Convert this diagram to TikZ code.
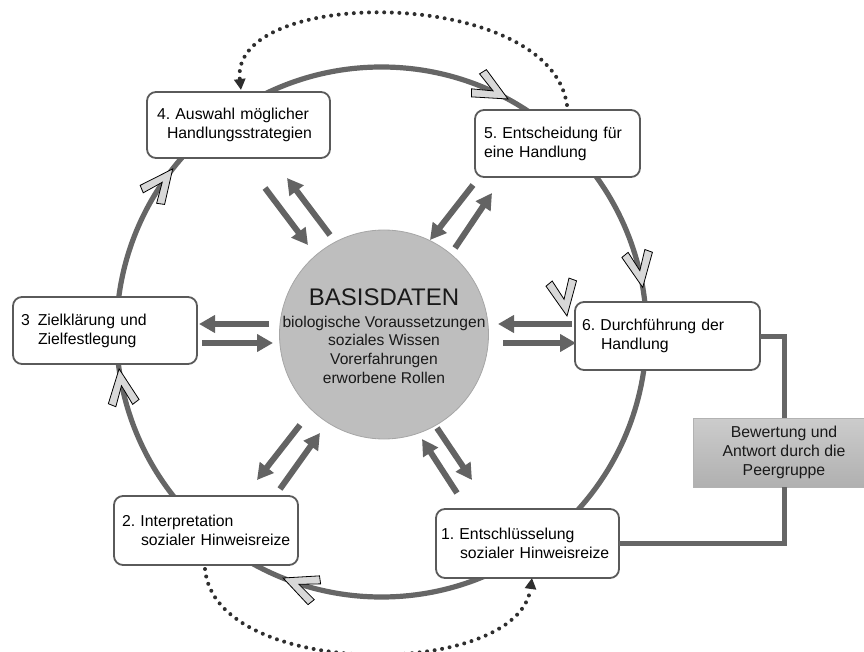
\documentclass[tikz,border=0pt]{standalone}
\usepackage{fontspec}
\setmainfont{Liberation Sans}
\usetikzlibrary{arrows.meta}
\definecolor{ringgray}{HTML}{666666}
\definecolor{boxline}{HTML}{5A5A5A}
\definecolor{arrgray}{HTML}{636363}
\definecolor{chevfill}{HTML}{D8D8D8}
\definecolor{circfill}{HTML}{BEBEBE}
\definecolor{circline}{HTML}{A6A6A6}
\definecolor{dotcol}{HTML}{2E2E2E}
\definecolor{fbtop}{HTML}{CCCCCC}
\definecolor{fbbot}{HTML}{B0B0B0}
\newcommand\boxfont{\fontsize{15.8}{19}\selectfont}
\newcommand\circfont{\fontsize{15.6}{18.8}\selectfont}
\frenchspacing
\begin{document}
\begin{tikzpicture}[x=1pt,y=-1pt,
  ring/.style={draw=ringgray, line width=5.2pt},
  stepbox/.style={draw=boxline, line width=1.8pt, rounded corners=9pt, fill=white,
    anchor=north west, align=left, font=\boxfont, text=black, inner ysep=0pt, outer sep=0pt},
  bigarrow/.style={draw=arrgray, line width=6pt, -{Triangle[length=16pt,width=17pt]}},
  dotarrow/.style={draw=dotcol, line width=4pt, line cap=round,
    dash pattern=on 0pt off 7.6pt, -{Triangle[length=11pt,width=11pt]}},
  fbline/.style={draw=ringgray, line width=5pt},
  fbbox/.style={draw=gray!60, line width=0.8pt, top color=fbtop, bottom color=fbbot,
    minimum width=182pt, minimum height=69pt, align=center, font=\boxfont, text=black!90},
  chev/.pic={\filldraw[fill=chevfill, draw=black, line width=0.8pt, line join=miter]
    (0,0) -- (-33,15.5) -- (-37,8.5) -- (-17,0) -- (-37,-8.5) -- (-33,-15.5) -- cycle;}
]
\useasboundingbox (0,0) rectangle (864,652);
\clip (0,0) rectangle (864,652);

% outer cycle ring
\coordinate (ringc) at (381.5,332);
\draw[ring] (ringc) circle (265pt);

% chevron arrowheads on the ring
\pic[rotate=-28.5] at (508,99) {chev};
\pic[rotate=-80.3] at (642.7,287.4) {chev};
\pic[rotate=158.2] at (283.1,578) {chev};
\pic[rotate=98] at (119.1,368.9) {chev};
\pic[rotate=52] at (172.7,168.9) {chev};
\pic[rotate=-80] at (567,316) {chev};

% step boxes
\node[stepbox, inner xsep=10pt, text width=163pt, minimum height=66pt] (b4) at (147,92)
  {4. Auswahl möglicher\\\hspace*{10pt}Handlungsstrategien};
\node[stepbox, inner xsep=9pt, text width=147pt, minimum height=67pt] (b5) at (475,110)
  {5. Entscheidung für\\eine Handlung};
\node[stepbox, inner xsep=7pt, text width=171pt, minimum height=68pt] (b6) at (575,302)
  {6. Durchführung der\\\hspace*{19pt}Handlung};
\node[stepbox, inner xsep=8pt, text width=168pt, minimum height=67pt] (b3) at (13,297)
  {3\hspace{8pt}Zielklärung und\\\hspace*{17pt}Zielfestlegung};
\node[stepbox, inner xsep=8pt, text width=168pt, minimum height=69pt] (b2) at (114,496)
  {2. Interpretation\\\hspace*{19pt}\mbox{sozialer Hinweisreize}};
\node[stepbox, inner xsep=5pt, text width=173pt, minimum height=69pt] (b1) at (436,509)
  {1. Entschlüsselung\\\hspace*{19pt}\mbox{sozialer Hinweisreize}};

% dotted feedback arrows
\coordinate (d1s) at (567,105);
\coordinate (d1e) at (241,90);
\draw[dotarrow] (d1s) .. controls (550,-14) and (229,-14) .. (d1e);
\coordinate (d2s) at (205,569);
\coordinate (d2e) at (532,578);
\draw[dotarrow] (d2s) .. controls (215,680) and (518,680) .. (d2e);

% central circle
\node[circle, minimum size=209pt, inner sep=0pt, fill=circfill, draw=circline, line width=0.8pt]
  (basis) at (384,334.5) {};
\node[font=\circfont, align=center, text=black!90] (btext) at (384,336)
  {{\fontsize{24}{24}\selectfont BASISDATEN}\\[3pt]
   biologische Voraussetzungen\\ soziales Wissen\\ Vorerfahrungen\\ erworbene Rollen};

% arrows between boxes and centre
\coordinate (a1s) at (265,188);  \coordinate (a1e) at (308,245);
\coordinate (a2s) at (330,235);  \coordinate (a2e) at (287,178);
\coordinate (a3s) at (473,185);  \coordinate (a3e) at (430,240);
\coordinate (a4s) at (455,248);  \coordinate (a4e) at (492,193);
\coordinate (a5s) at (269,324);  \coordinate (a5e) at (199,324);
\coordinate (a6s) at (202,343);  \coordinate (a6e) at (273,343);
\coordinate (a7s) at (572,324);  \coordinate (a7e) at (498,324);
\coordinate (a8s) at (503,343);  \coordinate (a8e) at (576,343);
\coordinate (a9s) at (300,425);  \coordinate (a9e) at (257,480);
\coordinate (a10s) at (280,489); \coordinate (a10e) at (320,433);
\coordinate (a11s) at (437,428); \coordinate (a11e) at (472,480);
\coordinate (a12s) at (457,493); \coordinate (a12e) at (422,439);
\foreach \i in {1,...,12}{\draw[bigarrow] (a\i s) -- (a\i e);}

% evaluation by peer group
\node[fbbox] (fb) at (784,452.5) {Bewertung und\\Antwort durch die\\Peergruppe};
\draw[fbline] (b6.east) -| (fb.north);
\draw[fbline] (fb.south) |- (b1.east);
\end{tikzpicture}
\end{document}
